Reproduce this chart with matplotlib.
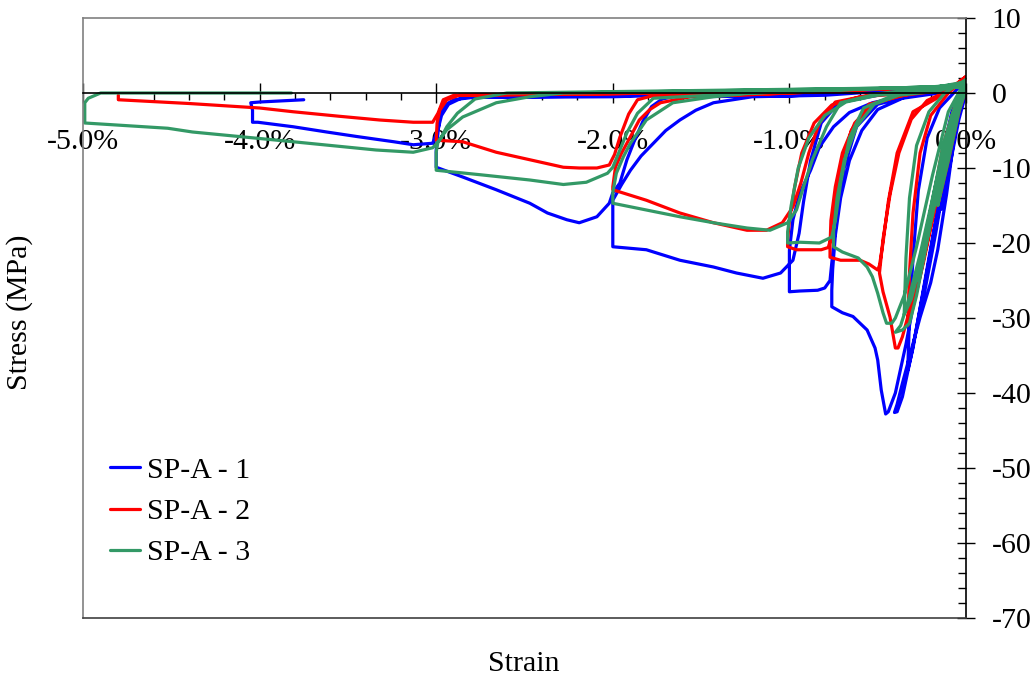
import matplotlib
matplotlib.use("Agg")
import matplotlib.pyplot as plt
from matplotlib.ticker import MultipleLocator, FuncFormatter
from matplotlib.lines import Line2D

plt.rcParams['font.family'] = ['Liberation Serif', 'DejaVu Serif']
plt.rcParams['axes.unicode_minus'] = False

# ---- cyclic compression records (strain in %, stress in MPa) ----
sp1_strain = [
    0.00, -0.04, -0.09, -0.14,
    -0.12, -0.08, -0.04, -0.01, 0.00,
    -0.05, -0.12, -0.20, -0.26,
    -0.23, -0.17, -0.11, -0.06, -0.02, 0.00,
    -0.06, -0.14, -0.23, -0.31, -0.36, -0.39, -0.405,
    -0.39, -0.36, -0.31, -0.26, -0.20, -0.16, -0.11, -0.07, -0.03, 0.00,
    -0.07, -0.15, -0.24, -0.30, -0.33,
    -0.32, -0.30, -0.27, -0.22, -0.15, -0.07, 0.00,
    -0.08, -0.17, -0.26, -0.34, -0.40, -0.44, -0.455,
    -0.48, -0.50, -0.515, -0.56, -0.64, -0.70, -0.76,
    -0.76, -0.755, -0.74, -0.71, -0.66, -0.59, -0.50, -0.36, -0.15, 0.00,
    -0.30, -0.50, -0.62, -0.69, -0.73, -0.755, -0.77, -0.80, -0.84, -0.94, -1.00,
    -1.00, -0.98, -0.94, -0.88, -0.83, -0.75, -0.66, -0.53, -0.37, -0.15, 0.00,
    -0.50, -0.72, -0.82, -0.88, -0.92, -0.945, -0.98, -1.05, -1.15, -1.30, -1.43, -1.62, -1.81, -1.95, -2.00,
    -2.00, -1.95, -1.90, -1.84, -1.77, -1.70, -1.62, -1.53, -1.43, -1.21, -0.80, 0.00,
    -1.00, -1.66, -1.72, -1.78, -1.83, -1.88, -1.92, -1.96, -2.00, -2.02, -2.09, -2.19, -2.26, -2.37, -2.47, -2.66, -2.85, -3.00,
    -3.00, -2.99, -2.98, -2.95, -2.90, -2.80, -2.50, -2.00, 0.00,
    -2.00, -2.85, -2.93, -2.97, -2.99, -3.02, -3.13, -3.24, -3.45, -3.62, -3.81, -4.01, -4.04,
    -4.04, -4.05, -4.00, -3.75,
]
sp1_stress = [
    0.0, -3.5, -9.5, -15.5,
    -13.0, -7.0, -2.0, 0.5, 1.0,
    -3.0, -11.5, -21.5, -29.0,
    -26.0, -18.5, -10.0, -3.0, 0.5, 1.5,
    -3.0, -13.0, -25.0, -35.0, -40.5, -42.5, -42.6,
    -41.5, -38.7, -34.3, -29.9, -25.3, -20.9, -13.5, -6.5, -1.0, 1.8,
    -4.0, -14.0, -26.0, -34.0, -37.0,
    -30.0, -22.0, -13.0, -6.0, -2.0, 0.0, 1.8,
    -2.5, -12.0, -23.5, -33.5, -40.0, -42.5, -42.8,
    -39.6, -35.6, -34.0, -31.6, -29.8, -29.3, -28.5,
    -26.3, -23.5, -19.0, -14.0, -9.0, -5.0, -2.2, -0.7, 0.0, 1.5,
    -0.3, -1.5, -4.5, -10.0, -16.0, -21.5, -25.0, -26.0, -26.3, -26.4, -26.5,
    -21.0, -16.9, -13.3, -10.3, -7.2, -4.5, -2.6, -1.3, -0.5, 0.2, 1.2,
    -0.3, -1.3, -4.0, -9.0, -14.5, -18.7, -22.3, -24.0, -24.7, -24.0, -23.2, -22.3, -20.9, -20.6, -20.5,
    -14.3, -12.2, -10.3, -8.4, -6.7, -5.0, -3.6, -2.3, -1.3, -0.5, -0.3, 1.0,
    -0.4, -0.5, -0.8, -1.8, -3.8, -6.5, -8.9, -12.0, -13.3, -14.7, -16.5, -17.3, -16.9, -16.0, -14.7, -12.9, -11.2, -9.9,
    -7.6, -5.3, -3.2, -1.6, -0.9, -0.6, -0.5, -0.4, 0.8,
    -0.5, -0.6, -1.5, -3.0, -4.9, -6.7, -6.9, -6.5, -5.8, -5.2, -4.5, -3.9, -3.9,
    -2.3, -1.3, -1.2, -0.9,
]

sp2_strain = [
    0.00, -0.04, -0.10, -0.16,
    -0.14, -0.09, -0.04, 0.00,
    -0.06, -0.14, -0.22, -0.28,
    -0.26, -0.20, -0.13, -0.06, 0.00,
    -0.07, -0.15, -0.24, -0.30, -0.33,
    -0.32, -0.30, -0.26, -0.20, -0.10, 0.00,
    -0.08, -0.17, -0.26, -0.32, -0.36, -0.385, -0.40, -0.43, -0.47, -0.49,
    -0.47, -0.43, -0.38, -0.31, -0.22, -0.10, 0.00,
    -0.15, -0.30, -0.39, -0.44, -0.47, -0.49, -0.50, -0.55, -0.60, -0.71, -0.77,
    -0.77, -0.765, -0.74, -0.70, -0.63, -0.53, -0.38, -0.15, 0.00,
    -0.35, -0.55, -0.65, -0.71, -0.74, -0.76, -0.78, -0.82, -0.90, -0.96, -1.01,
    -1.01, -1.00, -0.97, -0.93, -0.86, -0.76, -0.60, -0.30, 0.00,
    -0.55, -0.74, -0.83, -0.89, -0.935, -0.98, -1.04, -1.13, -1.24, -1.43, -1.62, -1.81, -2.00,
    -2.00, -1.985, -1.95, -1.92, -1.85, -1.79, -1.73, -1.56, -1.20, 0.00,
    -1.20, -1.78, -1.86, -1.91, -1.96, -1.99, -2.02, -2.09, -2.19, -2.28, -2.47, -2.66, -2.85, -3.00,
    -2.995, -2.98, -2.94, -2.87, -2.00, 0.00,
    -2.00, -2.90, -2.96, -2.99, -3.02, -3.13, -3.32, -3.55, -3.81, -4.00, -4.40, -4.80,
    -4.80,
]
sp2_stress = [
    0.5, -2.5, -9.0, -15.0,
    -12.5, -6.0, -1.0, 1.5,
    -2.5, -11.0, -20.0, -26.5,
    -24.0, -16.0, -7.0, -1.5, 2.0,
    -3.5, -12.5, -22.5, -28.5, -31.0,
    -24.0, -16.0, -8.0, -3.0, 0.0, 2.0,
    -3.0, -12.5, -22.5, -29.0, -32.5, -34.0, -34.0, -29.9, -26.5, -24.0,
    -19.5, -13.5, -8.0, -3.5, -1.0, 0.3, 2.2,
    -0.5, -2.5, -8.0, -14.5, -20.0, -23.0, -23.6, -22.8, -22.3, -22.3, -21.9,
    -20.5, -17.0, -12.5, -8.0, -4.0, -1.5, -0.4, 0.3, 1.5,
    -0.3, -1.5, -5.0, -10.5, -15.5, -19.0, -20.6, -20.9, -20.9, -20.9, -20.5,
    -19.6, -17.0, -12.5, -8.0, -4.0, -1.6, -0.5, 0.0, 1.2,
    -0.3, -1.2, -4.0, -8.0, -12.0, -15.2, -17.3, -18.3, -18.3, -17.3, -16.0, -14.3, -12.9,
    -12.5, -9.9, -8.0, -6.7, -3.6, -2.2, -1.3, -0.5, -0.2, 1.0,
    -0.2, -0.4, -0.9, -2.8, -5.9, -8.2, -9.6, -10.0, -10.0, -9.9, -8.9, -7.9, -6.5, -6.3,
    -4.0, -2.3, -0.9, -0.3, -0.1, 0.8,
    -0.1, -0.3, -0.9, -2.7, -3.9, -3.9, -3.6, -3.1, -2.5, -2.0, -1.4, -0.9,
    -0.3,
]

sp3_strain = [
    0.00, -0.04, -0.10, -0.16,
    -0.14, -0.09, -0.04, 0.00,
    -0.06, -0.14, -0.22, -0.28,
    -0.26, -0.20, -0.13, -0.06, 0.00,
    -0.08, -0.17, -0.26, -0.33, -0.37, -0.40,
    -0.36, -0.32, -0.28, -0.23, -0.17, -0.11, -0.05, 0.00,
    -0.07, -0.16, -0.25, -0.31, -0.35,
    -0.34, -0.32, -0.28, -0.21, -0.12, 0.00,
    -0.10, -0.19, -0.28, -0.35, -0.40, -0.42, -0.45, -0.47, -0.49, -0.50, -0.53, -0.56, -0.61, -0.70, -0.75,
    -0.75, -0.73, -0.69, -0.62, -0.52, -0.38, -0.15, 0.00,
    -0.40, -0.58, -0.66, -0.71, -0.74, -0.76, -0.83, -0.94, -1.01,
    -1.01, -0.99, -0.95, -0.89, -0.80, -0.68, -0.50, -0.20, 0.00,
    -0.50, -0.71, -0.79, -0.87, -0.92, -0.96, -1.01, -1.11, -1.24, -1.43, -1.62, -1.81, -2.00,
    -2.00, -1.98, -1.94, -1.90, -1.81, -1.66, -1.43, -1.21, 0.00,
    -1.21, -1.77, -1.86, -1.92, -1.96, -2.00, -2.03, -2.15, -2.28, -2.47, -2.75, -3.00,
    -3.00, -2.99, -2.94, -2.85, -2.66, -2.47, -2.28, 0.00,
    -2.60, -2.78, -2.88, -2.94, -2.98, -3.02, -3.13, -3.34, -3.81, -4.38, -4.52, -4.99,
    -4.99, -4.97, -4.90, -3.82,
]
sp3_stress = [
    0.5, -2.5, -9.0, -15.0,
    -12.5, -6.0, -1.0, 1.2,
    -2.5, -11.0, -19.5, -25.0,
    -22.5, -15.5, -7.0, -1.5, 1.6,
    -3.0, -12.0, -21.5, -28.0, -31.0, -31.9,
    -31.6, -30.7, -27.0, -21.0, -13.0, -6.0, -1.0, 1.8,
    -3.5, -12.5, -22.0, -27.5, -29.5,
    -22.0, -14.0, -7.0, -2.5, 0.0, 1.8,
    -2.5, -11.0, -20.5, -27.0, -30.0, -30.7, -30.7, -29.3, -27.6, -26.7, -24.5, -23.2, -22.0, -21.2, -20.5,
    -18.5, -14.0, -9.0, -4.5, -1.5, -0.3, 0.3, 1.5,
    -0.2, -2.0, -6.0, -12.0, -17.0, -19.2, -20.0, -19.9, -20.0,
    -18.5, -15.0, -10.0, -6.0, -3.0, -1.2, -0.3, 0.3, 1.3,
    -0.1, -1.3, -4.5, -8.9, -12.5, -15.6, -17.3, -18.3, -18.0, -17.3, -16.5, -15.6, -14.7,
    -13.3, -10.7, -8.5, -6.7, -3.6, -1.3, -0.5, 0.0, 1.0,
    0.0, -0.7, -2.7, -5.3, -7.6, -9.9, -10.7, -11.9, -12.2, -11.6, -10.9, -10.3,
    -7.9, -6.5, -4.9, -3.2, -1.3, -0.5, 0.0, 0.8,
    0.0, -0.8, -2.7, -4.5, -6.3, -7.3, -7.9, -7.6, -6.5, -5.2, -4.7, -4.0,
    -1.3, -0.7, 0.0, 0.0,
]

series_labels = ["SP-A - 1", "SP-A - 2", "SP-A - 3"]
series_colors = ["#0000FF", "#FF0000", "#339966"]

x_major_ticks = [-5, -4, -3, -2, -1, 0]
y_major_ticks = [-70, -60, -50, -40, -30, -20, -10, 0, 10]

FS = 21.5

fig = plt.figure(figsize=(10.33, 6.85), dpi=100)
W, H = 1033, 685
left, right, top, bottom = 83, 966, 18, 618
ax = fig.add_axes([left / W, 1 - bottom / H, (right - left) / W, (bottom - top) / H])

curves = [(sp1_strain, sp1_stress), (sp2_strain, sp2_stress), (sp3_strain, sp3_stress)]
for (xs, ys), lab, col in zip(curves, series_labels, series_colors):
    ax.plot(xs, ys, color=col, lw=2.3, label=lab, solid_joinstyle='round',
            solid_capstyle='round')

ax.set_xlim(-5, 0)
ax.set_ylim(-70, 10)

# frame: grey box, x axis through zero stress, stress axis at zero strain
for side in ("left", "top"):
    ax.spines[side].set_color("#808080")
    ax.spines[side].set_linewidth(1.2)
ax.spines["right"].set_color("black")
ax.spines["right"].set_linewidth(1.2)
ax.spines["bottom"].set_position(("data", 0))
ax.spines["bottom"].set_color("black")
ax.spines["bottom"].set_linewidth(1.2)
ax.add_line(Line2D([0, 1], [0, 0], transform=ax.transAxes, color="#404040",
                   lw=1.2, clip_on=False, zorder=5))

ax.set_xticks(x_major_ticks)
ax.xaxis.set_minor_locator(MultipleLocator(0.2))
ax.xaxis.set_major_formatter(FuncFormatter(lambda v, p: f"{v:.1f}%"))
ax.set_yticks(y_major_ticks)
ax.yaxis.set_minor_locator(MultipleLocator(2))
ax.yaxis.set_major_formatter(FuncFormatter(lambda v, p: f"{v:.0f}"))

ax.yaxis.tick_right()
ax.tick_params(axis="x", which="major", direction="inout", length=14, width=1.0,
               labelsize=FS, pad=19)
ax.tick_params(axis="x", which="minor", direction="out", length=5, width=1.0)
ax.tick_params(axis="y", which="major", direction="inout", length=13, width=1.0,
               labelsize=FS, pad=12, left=False, right=True)
ax.tick_params(axis="y", which="minor", direction="in", length=6, width=1.0,
               left=False, right=True)

fig.text(20 / W, 1 - 312 / H, "Stress (MPa)", rotation=90, ha="center", va="center",
         fontsize=FS)
fig.text(524 / W, 1 - 664 / H, "Strain", ha="center", va="center", fontsize=FS)

leg = ax.legend(loc="upper left", bbox_to_anchor=(110 / W, 1 - 457 / H),
                bbox_transform=fig.transFigure, frameon=False, fontsize=FS,
                handlelength=1.0, handletextpad=0.25, labelspacing=0.48,
                borderaxespad=0, borderpad=0)

fig.savefig("out.png", dpi=100)
